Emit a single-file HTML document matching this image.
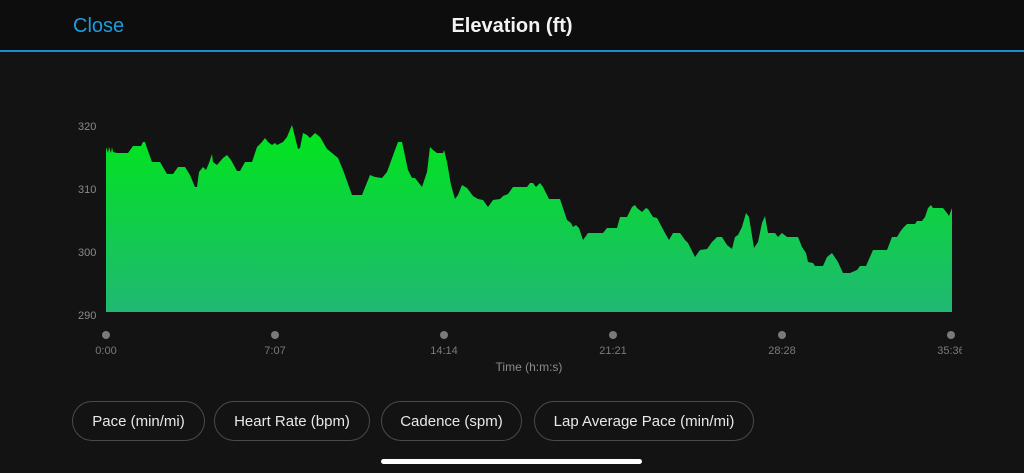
<!DOCTYPE html>
<html><head><meta charset="utf-8"><style>
html,body{margin:0;padding:0;width:1024px;height:473px;background:#131313;overflow:hidden;font-family:"Liberation Sans",sans-serif;}
.hdr{position:absolute;left:0;top:0;width:1024px;height:50px;background:#0d0d0d;border-bottom:2px solid #1a8fd0;}
.close{position:absolute;left:73px;top:15px;font-size:20px;color:#1a9de0;}
.title{position:absolute;left:0;width:1024px;text-align:center;top:15px;font-size:20px;color:#f2f2f2;font-weight:bold;}
.btn{position:absolute;top:401px;height:38px;border:1px solid #4a4a4a;border-radius:20px;color:#e8e8e8;font-size:15px;line-height:40px;text-align:center;box-sizing:content-box;}
.bar{position:absolute;left:381px;top:459px;width:261px;height:5px;border-radius:3px;background:#fff;}
</style></head><body>
<div class="hdr"><div class="close">Close</div><div class="title">Elevation (ft)</div></div>
<svg width="1024" height="473" style="position:absolute;left:0;top:0">
<defs><linearGradient id="g" x1="0" y1="0" x2="0" y2="1"><stop offset="0" stop-color="#00e61a"/><stop offset="1" stop-color="#20b874"/></linearGradient></defs>
<g font-family="Liberation Sans" font-size="11" fill="#8a8a8a">
<text x="78" y="130">320</text><text x="78" y="193">310</text><text x="78" y="256">300</text><text x="78" y="319">290</text>
</g>
<polygon fill="url(#g)" points="106,312 106,147 108,153 109,147 111,153 112,147 113,152 117,153 128,153 133,146 141,146 143,142 145,142 147,148 152,162 160,162 167,174 173,174 178,167 185,167 190,175 195,187 197,187 199,172 203,167 206,170 209,163 212,154 213,162 217,165 223,158 227,155 231,160 237,171 240,171 245,162 252,162 257,147 262,142 265,138 268,142 272,145 275,143 277,145 283,142 287,137 292,125 295,137 298,149 300,148 303,133 307,135 310,138 315,133 320,137 327,149 332,153 338,158 343,170 352,195 362,195 366,185 370,175 375,177 382,178 387,172 395,150 398,142 402,142 408,170 412,178 415,178 422,187 427,172 430,147 433,150 437,153 443,153 444,150 447,162 451,185 455,199 458,195 462,185 467,188 473,196 478,199 483,200 488,207 493,200 500,199 503,196 508,194 513,187 527,187 530,183 533,183 536,187 540,183 543,187 549,199 560,199 567,220 571,223 573,227 576,225 579,228 583,240 588,233 603,233 607,228 617,228 620,217 627,217 632,207 635,205 637,208 642,212 646,208 648,209 653,217 657,218 665,233 669,240 673,233 680,233 685,240 688,243 695,257 700,250 707,249 712,242 717,237 722,237 727,245 732,249 735,237 738,235 742,227 746,213 749,217 754,248 758,242 762,223 765,216 768,233 775,233 778,237 782,233 787,237 798,237 802,247 806,253 808,262 813,263 815,266 823,266 827,257 832,253 838,262 843,273 850,273 857,270 860,266 866,266 873,250 887,250 892,237 897,237 900,232 903,228 907,224 915,224 917,221 922,221 925,217 928,208 931,205 933,208 943,208 947,213 949,216 952,208 952,312"/>
<g fill="#7a7a7a"><circle cx="106" cy="335" r="4"/><circle cx="275" cy="335" r="4"/><circle cx="444" cy="335" r="4"/><circle cx="613" cy="335" r="4"/><circle cx="782" cy="335" r="4"/><circle cx="951" cy="335" r="4"/></g>
<g font-family="Liberation Sans" font-size="11" fill="#7a7a7a" text-anchor="middle">
<text x="106" y="354">0:00</text><text x="275" y="354">7:07</text><text x="444" y="354">14:14</text><text x="613" y="354">21:21</text><text x="782" y="354">28:28</text><text x="951" y="354">35:36</text>
<text x="529" y="371" font-size="12" fill="#8a8a8a">Time (h:m:s)</text>
</g>
<rect x="962" y="340" width="20" height="20" fill="#131313"/>
</svg>
<div class="btn" style="left:72px;width:131px">Pace (min/mi)</div>
<div class="btn" style="left:214px;width:154px">Heart Rate (bpm)</div>
<div class="btn" style="left:381px;width:139px">Cadence (spm)</div>
<div class="btn" style="left:534px;width:218px">Lap Average Pace (min/mi)</div>
<div class="bar"></div>
</body></html>
